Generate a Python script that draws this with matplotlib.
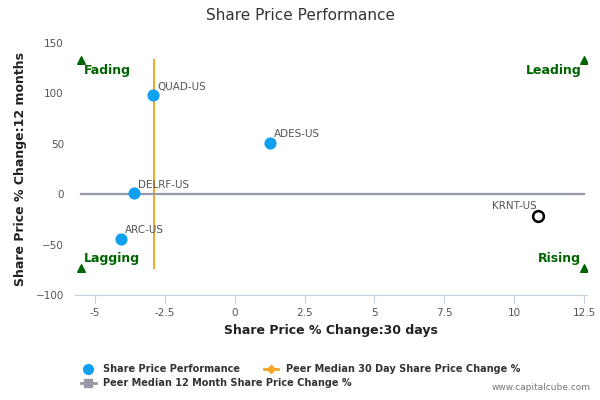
import matplotlib.pyplot as plt
from matplotlib.lines import Line2D

tickers = ['QUAD-US', 'ADES-US', 'DELRF-US', 'ARC-US', 'KRNT-US']
chg_30d = [-2.93, 1.25, -3.6, -4.07, 10.85]
chg_12m = [98, 51, 1, -44, -22]
highlight = 'KRNT-US'

peer_median_30d = -2.9
peer_median_12m = 0.5

quadrants = ['Fading', 'Lagging', 'Leading', 'Rising']
quad_x = [-5.5, -5.5, 12.5, 12.5]
quad_y = [133, -73, 133, -73]

fig = plt.figure(figsize=(6, 4), dpi=100)
ax = fig.add_axes([0.125, 0.2625, 0.853, 0.63])

ax.plot([peer_median_30d, peer_median_30d], [quad_y[1], quad_y[0]], color='#f5a623', lw=1.4, zorder=2)
ax.plot([quad_x[0], quad_x[2]], [peer_median_12m, peer_median_12m], color='#969aa6', lw=1.6, zorder=2)

for t, x, y in zip(tickers, chg_30d, chg_12m):
    if t == highlight:
        ax.scatter(x, y, s=60, facecolor='white', edgecolor='black', linewidth=1.8, zorder=4)
        ax.annotate(t, (x, y), xytext=(-1, 5), textcoords='offset points', ha='right',
                    fontsize=7.5, color='#555555')
    else:
        ax.scatter(x, y, s=60, color='#0fa0f0', zorder=4)
        ax.annotate(t, (x, y), xytext=(3, 4), textcoords='offset points',
                    fontsize=7.5, color='#555555')

for name, x, y in zip(quadrants, quad_x, quad_y):
    ax.scatter(x, y, marker='^', s=30, color='#006400', zorder=3)
    ha = 'left' if x < 0 else 'right'
    dx = 0.1 if x < 0 else -0.1
    if y > 0:
        ax.text(x + dx, y - 4, name, ha=ha, va='top', fontsize=9, fontweight='bold', color='#006400')
    else:
        ax.text(x + dx, y + 3, name, ha=ha, va='bottom', fontsize=9, fontweight='bold', color='#006400')

ax.set_xlim(-5.72, 12.6)
ax.set_ylim(-100, 150)
ax.set_xticks([-5, -2.5, 0, 2.5, 5, 7.5, 10, 12.5])
ax.set_xticklabels(['-5', '-2.5', '0', '2.5', '5', '7.5', '10', '12.5'])
ax.set_yticks([-100, -50, 0, 50, 100, 150])

for s in ['top', 'right', 'left']:
    ax.spines[s].set_visible(False)
ax.spines['bottom'].set_color('#c0d0e0')
ax.tick_params(axis='x', colors='#c0d0e0', labelcolor='#555555', labelsize=7.5, length=6)
ax.tick_params(axis='y', length=0, labelcolor='#555555', labelsize=7.5, pad=8)

ax.set_xlabel('Share Price % Change:30 days', fontsize=9, fontweight='bold', color='#222222')
ax.set_ylabel('Share Price % Change:12 months', fontsize=9, fontweight='bold', color='#222222', labelpad=6)
fig.text(0.5, 0.96, 'Share Price Performance', ha='center', va='center', fontsize=11, color='#333333')

h_spp = Line2D([], [], marker='o', color='#0fa0f0', ls='none', markersize=7)
h_30d = Line2D([], [], marker='D', color='#f5a623', lw=2, markersize=4)
h_12m = Line2D([], [], marker='s', color='#969aa6', lw=2, markersize=6)
legend_kw = dict(loc='upper left', frameon=False, prop={'weight': 'bold', 'size': 7},
                 handlelength=1.5, borderaxespad=0, borderpad=0, handletextpad=0.8,
                 labelcolor='#333333')
leg1 = fig.legend([h_spp, h_30d], ['Share Price Performance', 'Peer Median 30 Day Share Price Change %'],
                  ncol=2, columnspacing=2.4, bbox_to_anchor=(0.135, 0.09), **legend_kw)
leg2 = fig.legend([h_12m], ['Peer Median 12 Month Share Price Change %'],
                  bbox_to_anchor=(0.135, 0.055), **legend_kw)
fig.text(0.985, 0.02, 'www.capitalcube.com', ha='right', va='bottom', fontsize=6.5, color='#777777')

fig.savefig('out.png', dpi=100)
